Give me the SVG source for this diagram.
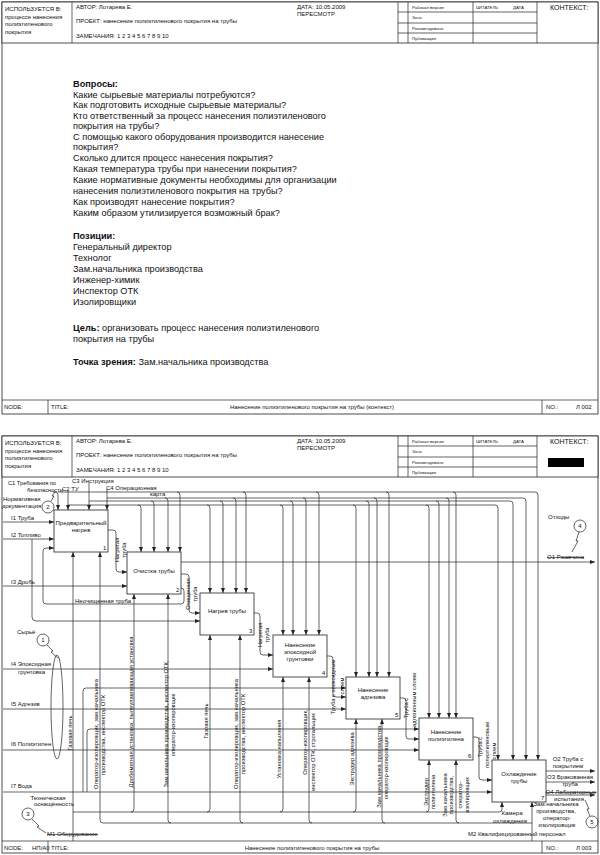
<svg xmlns="http://www.w3.org/2000/svg" width="600" height="855" viewBox="0 0 600 855">
<style>
text{font-family:"Liberation Sans",Arial,sans-serif;fill:#111}
.h{font-size:6px}
.s{font-size:4.3px}
.k{font-size:7px}
.b{font-size:9.2px}
.bb{font-weight:bold}
.d{font-size:6px}
.r{font-size:5.8px;text-anchor:middle}
.m{text-anchor:middle}
.fr{fill:#fff;stroke:#222;stroke-width:0.8}
.ln{fill:none;stroke:#222;stroke-width:0.7}
.c{fill:none;stroke:#222;stroke-width:0.7}
.a{fill:none;stroke:#222;stroke-width:0.7;marker-end:url(#ar)}
.st{text-decoration:line-through}
</style>
<defs>
<marker id="ar" markerWidth="5" markerHeight="4" refX="5" refY="2" orient="auto" markerUnits="userSpaceOnUse"><path d="M0,0 L5,2 L0,4 z" fill="#222"/></marker>
<g id="hdr">
<rect x="2" y="2" width="596" height="41" fill="#fff" stroke="#222" stroke-width="0.8"/>
<path class="ln" d="M72,2V43M398,2V43M408,2V43M473,2V43M537,2V43M398,12H537M398,23H537M398,33H537"/>
<text class="h" x="5" y="11">ИСПОЛЬЗУЕТСЯ В:</text>
<text class="h" x="5" y="18.5">процессе нанесения</text>
<text class="h" x="5" y="26">полиэтиленового</text>
<text class="h" x="5" y="33.5">покрытия</text>
<text class="h" x="76" y="9">АВТОР: Лотарева Е.</text>
<text class="h" x="297" y="9">ДАТА: 10.05.2009</text>
<text class="h" x="297" y="15.5">ПЕРЕСМОТР</text>
<text class="s" x="412" y="8.5">Рабочая версия</text>
<text class="s" x="412" y="19">Зона</text>
<text class="s" x="412" y="29.5">Рекомендовано</text>
<text class="s" x="412" y="40">Публикация</text>
<text class="s" x="476" y="8.5">ЧИТАТЕЛЬ</text>
<text class="s" x="513" y="8.5">ДАТА</text>
<text class="k" x="550" y="10">КОНТЕКСТ:</text>
</g>
</defs>

<!-- Page 1 -->
<g id="page1">
<rect x="2" y="2" width="596" height="412" fill="#fff" stroke="#222" stroke-width="0.8"/>
<use href="#hdr"/>
<text class="h" x="76" y="23">ПРОЕКТ: нанесение полиэтиленового покрытия на трубы</text>
<text class="h" x="76" y="37.5">ЗАМЕЧАНИЯ: 1 2 3 4 5 6 7 8 9 10</text>
<g id="text1" class="b">
<text class="b bb" x="73" y="87">Вопросы:</text>
<text class="b" x="73" y="97.5">Какие сырьевые материалы потребуются?</text>
<text class="b" x="73" y="108">Как подготовить исходные сырьевые материалы?</text>
<text class="b" x="73" y="118.5">Кто ответственный за процесс нанесения полиэтиленового</text>
<text class="b" x="73" y="128.5">покрытия на трубы?</text>
<text class="b" x="73" y="139.5">С помощью какого оборудования производится нанесение</text>
<text class="b" x="73" y="150">покрытия?</text>
<text class="b" x="73" y="161">Сколько длится процесс нанесения покрытия?</text>
<text class="b" x="73" y="172">Какая температура трубы при нанесении покрытия?</text>
<text class="b" x="73" y="183">Какие нормативные документы необходимы для организации</text>
<text class="b" x="73" y="194">нанесения полиэтиленового покрытия на трубы?</text>
<text class="b" x="73" y="205">Как производят нанесение покрытия?</text>
<text class="b" x="73" y="216">Каким образом утилизируется возможный брак?</text>
<text class="b bb" x="73" y="238.5">Позиции:</text>
<text class="b" x="73" y="250">Генеральный директор</text>
<text class="b" x="73" y="261">Технолог</text>
<text class="b" x="73" y="272">Зам.начальника производства</text>
<text class="b" x="73" y="283">Инженер-химик</text>
<text class="b" x="73" y="294">Инспектор ОТК</text>
<text class="b" x="73" y="305">Изолировщики</text>
<text class="b" x="73" y="331"><tspan class="bb">Цель:</tspan> организовать процесс нанесения полиэтиленового</text>
<text class="b" x="73" y="341.5">покрытия на трубы</text>
<text class="b" x="73" y="364.5"><tspan class="bb">Точка зрения:</tspan> Зам.начальника производства</text>
</g>
<path class="ln" d="M2,400H598M48,400V414M542,400V414"/>
<text class="h" x="4" y="409">NODE:</text>
<text class="h" x="51" y="409">TITLE:</text>
<text class="h m" x="312" y="409">Нанесение полиэтиленового покрытия на трубы (контекст)</text>
<text class="h" x="546" y="409">NO.:</text>
<text class="h" x="576" y="409">Л 002</text>
</g>

<!-- Page 2 -->
<g id="page2">
<rect x="2" y="436" width="596" height="417" fill="#fff" stroke="#222" stroke-width="0.8"/>
<use href="#hdr" y="434"/>
<text class="h" x="76" y="457">ПРОЕКТ: нанесение полиэтиленового покрытия на трубы</text>
<text class="h" x="76" y="471.5">ЗАМЕЧАНИЯ: 1 2 3 4 5 6 7 8 9 10</text>
<rect x="548" y="458" width="36" height="9" fill="#000"/>
<path class="ln" d="M2,841H598M48,841V853M542,841V853"/>
<text class="h" x="4" y="850">NODE:</text>
<text class="h" x="32" y="850">НП/А0</text>
<text class="h" x="51" y="850">TITLE:</text>
<text class="h m" x="312" y="850">Нанесение полиэтиленового покрытия на трубы</text>
<text class="h" x="546" y="850">NO.:</text>
<text class="h" x="576" y="850">Л 003</text>
</g>

<!-- Connectors -->
<g id="connectors">
<!-- controls -->
<path class="a" d="M53,492H55Q58,492 58,495V510"/>
<path class="a" d="M58,492H535Q538,492 538,495V760"/>
<path class="a" d="M177,492Q180,492 180,495V552"/>
<path class="a" d="M243,492Q246,492 246,495V593"/>
<path class="a" d="M316,492Q319,492 319,495V635"/>
<path class="a" d="M386,492Q389,492 389,495V677"/>
<path class="a" d="M453,492Q456,492 456,495V718"/>
<path class="a" d="M107,489V510"/>
<path class="a" d="M107,498H523Q526,498 526,501V760"/>
<path class="a" d="M165,498Q168,498 168,501V552"/>
<path class="a" d="M233,498Q236,498 236,501V593"/>
<path class="a" d="M303,498Q306,498 306,501V635"/>
<path class="a" d="M374,498Q377,498 377,501V677"/>
<path class="a" d="M446,498Q449,498 449,501V718"/>
<path class="a" d="M89,483V510"/>
<path class="a" d="M89,501H510Q513,501 513,504V760"/>
<path class="a" d="M151,501Q154,501 154,504V552"/>
<path class="a" d="M220,501Q223,501 223,504V593"/>
<path class="a" d="M290,501Q293,501 293,504V635"/>
<path class="a" d="M366,501Q369,501 369,504V677"/>
<path class="a" d="M436,501Q439,501 439,504V718"/>
<path class="a" d="M68,491V510"/>
<path class="a" d="M68,505H495Q498,505 498,508V760"/>
<path class="a" d="M138,505Q141,505 141,508V552"/>
<path class="a" d="M207,505Q210,505 210,508V593"/>
<path class="a" d="M280,505Q283,505 283,508V635"/>
<path class="a" d="M353,505Q356,505 356,508V677"/>
<path class="a" d="M426,505Q429,505 429,508V718"/>
<!-- inputs -->
<path class="a" d="M3,522H54"/>
<path class="a" d="M3,539H54"/>
<path class="a" d="M32,539V617Q32,621 36,621H200"/>
<path class="a" d="M3,586H127"/>
<path class="a" d="M3,669H273"/>
<path class="a" d="M3,709H346"/>
<path class="a" d="M3,750H419"/>
<path class="a" d="M3,792H492"/>
<path class="a" d="M83,792V691Q83,688 86,688H346"/>
<path class="a" d="M87,792V732Q87,729 90,729H419"/>
<!-- internal arrows -->
<path class="a" d="M108,530H113Q116,530 116,533V569Q116,572 119,572H127"/>
<path class="a" d="M181,574H186Q189,574 189,577V610Q189,613 192,613H200"/>
<path class="a" d="M181,588Q184,588 184,591V601Q184,604 181,604H46Q43,604 43,601V551Q43,548 46,548H54"/>
<path class="a" d="M254,613H257Q260,613 260,616V652Q260,655 263,655H273"/>
<path class="a" d="M327,656H330Q333,656 333,659V694Q333,697 336,697H346"/>
<path class="a" d="M400,698H403Q406,698 406,701V736Q406,739 409,739H419"/>
<path class="a" d="M473,737H476Q479,737 479,740V777Q479,780 482,780H492"/>
<!-- outputs -->
<path class="a" d="M181,562H595"/>
<path class="a" d="M546,771H595"/>
<path class="a" d="M546,782H595"/>
<path class="a" d="M546,795H595"/>
<!-- mechanisms -->
<path class="a" d="M73,841V552"/>
<path class="a" d="M73,812H499Q502,812 502,809V802"/>
<path class="a" d="M131,812Q134,812 134,809V594"/>
<path class="a" d="M207,812Q210,812 210,809V635"/>
<path class="a" d="M280,812Q283,812 283,809V677"/>
<path class="a" d="M353,812Q356,812 356,809V719"/>
<path class="a" d="M426,812Q429,812 429,809V760"/>
<path class="a" d="M532,841V802"/>
<path class="a" d="M532,823H103Q100,823 100,820V552"/>
<path class="a" d="M171,823Q168,823 168,820V594"/>
<path class="a" d="M243,823Q240,823 240,820V635"/>
<path class="a" d="M312,823Q309,823 309,820V677"/>
<path class="a" d="M385,823Q382,823 382,820V719"/>
<path class="a" d="M459,823Q456,823 456,820V760"/>
</g>

<!-- Activity boxes -->
<g id="box1"><rect class="fr" x="54" y="510" width="54" height="42"/>
<text class="d m" x="81" y="525">Предварительный</text><text class="d m" x="81" y="532">нагрев</text><text class="d" x="103" y="549.5">1</text></g>
<g id="box2"><rect class="fr" x="127" y="552" width="54" height="42"/>
<text class="d m" x="154" y="572.5">Очистка трубы</text><text class="d" x="176" y="591.5">2</text></g>
<g id="box3"><rect class="fr" x="200" y="593" width="54" height="42"/>
<text class="d m" x="227" y="613">Нагрев трубы</text><text class="d" x="249" y="632.5">3</text></g>
<g id="box4"><rect class="fr" x="273" y="635" width="54" height="42"/>
<text class="d m" x="300" y="647">Нанесение</text><text class="d m" x="300" y="654">эпоксидной</text><text class="d m" x="300" y="661">грунтовки</text><text class="d" x="322" y="674.5">4</text></g>
<g id="box5"><rect class="fr" x="346" y="677" width="54" height="42"/>
<text class="d m" x="373" y="692">Нанесение</text><text class="d m" x="373" y="699">адгезива</text><text class="d" x="395" y="716.5">5</text></g>
<g id="box6"><rect class="fr" x="419" y="718" width="54" height="42"/>
<text class="d m" x="446" y="734">Нанесение</text><text class="d m" x="446" y="741">полиэтилена</text><text class="d" x="468" y="757.5">6</text></g>
<g id="box7"><rect class="fr" x="492" y="760" width="54" height="42"/>
<text class="d m" x="519" y="775.5">Охлаждение</text><text class="d m" x="519" y="782.5">трубы</text><text class="d" x="541" y="799.5">7</text></g>

<!-- Labels -->
<g id="labels">
<text class="d" x="8" y="485" style="font-size:5.7px">C1 Требования по</text>
<text class="d" x="27" y="492" style="font-size:5.7px">безопасности</text>
<text class="d" x="62" y="491">C2 ТУ</text>
<text class="d" x="72" y="483">C3 Инструкция</text>
<text class="d" x="106" y="490">C4 Операционная</text>
<text class="d" x="150" y="496">карта</text>
<text class="d" x="3" y="501">Нормативная</text>
<text class="d" x="2" y="508">документация</text>
<text class="d" x="11" y="519.5">I1 Труба</text>
<text class="d" x="11" y="536.5">I2 Топливо</text>
<text class="d" x="11" y="583.5">I3 Дробь</text>
<text class="d" x="11" y="666">I4 Эпоксидная</text>
<text class="d" x="18" y="673.5">грунтовка</text>
<text class="d" x="11" y="705.5">I5 Адгезив</text>
<text class="d" x="11" y="746">I6 Полиэтилен</text>
<text class="d" x="11" y="788">I7 Вода</text>
<text class="d" x="75" y="603">Неочищенная труба</text>
<text class="d" x="548" y="519">Отходы</text>
<text class="d st" x="547" y="559">O1 Ржавчина</text>
<text class="d m" x="568" y="761">O2 Труба с</text>
<text class="d m" x="568" y="768">покрытием</text>
<text class="d m" x="570" y="779">O3 Бракованная</text>
<text class="d m" x="570" y="786">труба</text>
<text class="d m st" x="571" y="794">O4 Лабораторные</text>
<text class="d m" x="569" y="801">испытания</text>
<text class="d st" x="47" y="836">M1 Оборудование</text>
<text class="d" x="468" y="836">M2 Квалифицированный персонал</text>
<text class="d m" x="512" y="815">Камера</text>
<text class="d m" x="510" y="823">охлаждения</text>
<text class="d m" x="556" y="806">Зам.начальника</text>
<text class="d m" x="556" y="813">производства,</text>
<text class="d m" x="557" y="820">оператор-</text>
<text class="d m" x="557" y="827">изолировщик</text>
<!-- rotated arrow labels -->
<text class="r" transform="translate(118.5,550) rotate(-90)">Нагретая</text>
<text class="r" transform="translate(125.5,550) rotate(-90)">труба</text>
<text class="r" transform="translate(190,594) rotate(-90)">Очищенная</text>
<text class="r" transform="translate(197,594) rotate(-90)">труба</text>
<text class="r" transform="translate(262,635) rotate(-90)">Нагретая</text>
<text class="r" transform="translate(269,635) rotate(-90)">труба</text>
<text class="r" transform="translate(335,687) rotate(-90)">Труба с эпоксидным</text>
<text class="r" transform="translate(344,686) rotate(-90)">слоем</text>
<text class="r" transform="translate(408,708) rotate(-90)">Труба с</text>
<text class="r" transform="translate(416,700) rotate(-90)">адгезионным слоем</text>
<text class="r" transform="translate(482,747) rotate(-90)">Труба с</text>
<text class="r" transform="translate(489,745) rotate(-90)">полиэтиленовым</text>
<text class="r" transform="translate(496,751) rotate(-90)">слоем</text>
<!-- rotated mechanism labels -->
<text class="r" transform="translate(71.5,733) rotate(-90)">Газовая печь</text>
<text class="r" transform="translate(97.5,734) rotate(-90)">Оператор-изолировщик, зам.начальника</text>
<text class="r" transform="translate(105,735) rotate(-90)">производства, инспектор ОТК</text>
<text class="r" transform="translate(133,712) rotate(-90)">Дробеметная установка, пылеулавливающая установка</text>
<text class="r" transform="translate(168,724) rotate(-90)">Зам.начальника производства, инспектор ОТК,</text>
<text class="r" transform="translate(175,725) rotate(-90)">оператор-изолировщик</text>
<text class="r" transform="translate(208,721) rotate(-90)">Газовая печь</text>
<text class="r" transform="translate(238,734) rotate(-90)">Оператор-изолировщик, зам.начальника</text>
<text class="r" transform="translate(245,734) rotate(-90)">производства, инспектор ОТК</text>
<text class="r" transform="translate(281,749) rotate(-90)">Установка напыления</text>
<text class="r" transform="translate(307,742) rotate(-90)">Оператор-изолировщик,</text>
<text class="r" transform="translate(315,752) rotate(-90)">инспектор ОТК, строгальщик</text>
<text class="r" transform="translate(354,759) rotate(-90)">Экструдер адгезива</text>
<text class="r" transform="translate(381,766) rotate(-90)">Зам.начальника производства,</text>
<text class="r" transform="translate(388,768) rotate(-90)">оператор-изолировщик</text>
<text class="r" transform="translate(428,792) rotate(-90)">Экструдер</text>
<text class="r" transform="translate(435,792) rotate(-90)">полиэтилена</text>
<text class="r" transform="translate(447,795) rotate(-90)">Зам.начальника</text>
<text class="r" transform="translate(453,795) rotate(-90)">производства,</text>
<text class="r" transform="translate(462,795) rotate(-90)">оператор-</text>
<text class="r" transform="translate(469,795) rotate(-90)">изолировщик</text>
</g>

<!-- Notes -->
<g id="note1">
<text class="d" x="17" y="634">Сырьё</text>
<circle class="c" cx="43" cy="640" r="6" fill="#fff"/><text class="d m" x="43" y="642">1</text>
<path class="c" d="M47,645L53,651L51,652L58,658"/>
<ellipse class="c" cx="57" cy="707" rx="6" ry="52"/>
</g>
<g id="note2">
<circle class="c" cx="48" cy="507" r="6"/><text class="d m" x="48" y="509">2</text>
<path class="c" d="M51,501L54,496L52,496L55,492"/>
</g>
<g id="note3">
<text class="d m" x="48" y="800">Техническая</text>
<text class="d m" x="54" y="806">оснащённость</text>
<circle class="c" cx="28" cy="814" r="6"/><text class="d m" x="28" y="816">3</text>
<path class="c" d="M32,819L39,826L37,827L46,833"/>
</g>
<g id="note4">
<circle class="c" cx="580" cy="526" r="6"/><text class="d m" x="580" y="528">4</text>
<path class="c" d="M579,532L576,541L578,541L572,552"/>
</g>
<g id="note5">
<circle class="c" cx="592" cy="822" r="6"/><text class="d m" x="592" y="824">5</text>
<path class="c" d="M590,816L587,809L589,809L585,800"/>
</g>
</svg>
